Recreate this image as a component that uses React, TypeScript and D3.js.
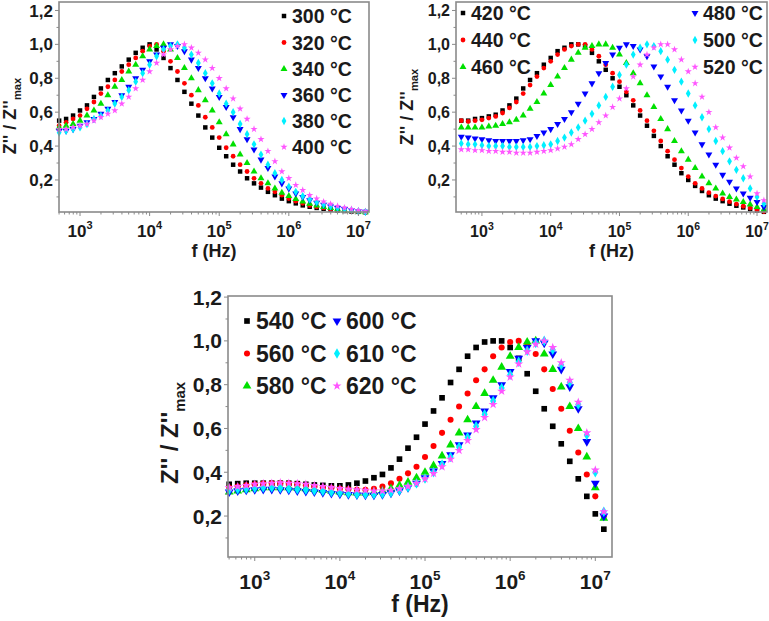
import React from "react";
import * as d3 from "d3";

// log10 of frequency (Hz) at each measured point
const LOG_F = [
  2.7, 2.8, 2.9, 3.0, 3.1, 3.2, 3.3, 3.4, 3.5, 3.6,
  3.7, 3.8, 3.9, 4.0, 4.1, 4.2, 4.3, 4.4, 4.5, 4.6,
  4.7, 4.8, 4.9, 5.0, 5.1, 5.2, 5.3, 5.4, 5.5, 5.6,
  5.7, 5.8, 5.9, 6.0, 6.1, 6.2, 6.3, 6.4, 6.5, 6.6,
  6.7, 6.8, 6.9, 7.0, 7.1,
];
const FREQ = LOG_F.map((e) => Math.pow(10, e));

const LABELS_A = ["300 °C", "320 °C", "340 °C", "360 °C", "380 °C", "400 °C"];
const LABELS_B = ["420 °C", "440 °C", "460 °C", "480 °C", "500 °C", "520 °C"];
const LABELS_C = ["540 °C", "560 °C", "580 °C", "600 °C", "610 °C", "620 °C"];

// Panel A (300-400 °C)
const A300 = [0.55,0.56,0.58,0.61,0.64,0.69,0.74,0.79,0.83,0.87,0.91,0.95,0.98,1.00,0.97,0.92,0.86,0.79,0.72,0.65,0.58,0.51,0.45,0.39,0.34,0.29,0.25,0.21,0.18,0.155,0.13,0.11,0.09,0.075,0.062,0.05,0.042,0.035,0.03,0.025,0.02,0.017,0.014,0.012,0.01];
const A320 = [0.52,0.54,0.56,0.58,0.62,0.66,0.71,0.75,0.79,0.84,0.88,0.92,0.96,0.99,1.00,0.96,0.90,0.84,0.77,0.70,0.64,0.57,0.51,0.45,0.39,0.34,0.29,0.25,0.21,0.18,0.15,0.13,0.11,0.09,0.075,0.062,0.05,0.042,0.035,0.028,0.023,0.019,0.015,0.012,0.01];
const A340 = [0.51,0.52,0.53,0.55,0.58,0.61,0.65,0.70,0.75,0.79,0.84,0.88,0.93,0.97,0.99,1.00,0.97,0.92,0.86,0.80,0.73,0.67,0.61,0.54,0.47,0.41,0.35,0.30,0.25,0.21,0.18,0.15,0.125,0.105,0.088,0.073,0.06,0.05,0.041,0.034,0.028,0.022,0.018,0.014,0.01];
const A360 = [0.49,0.49,0.50,0.52,0.54,0.56,0.59,0.62,0.66,0.70,0.75,0.80,0.85,0.90,0.94,0.98,1.00,0.99,0.96,0.91,0.86,0.80,0.74,0.69,0.63,0.57,0.50,0.44,0.38,0.32,0.27,0.22,0.18,0.15,0.12,0.10,0.08,0.065,0.053,0.043,0.035,0.028,0.022,0.016,0.012];
const A380 = [0.48,0.49,0.50,0.51,0.53,0.56,0.58,0.61,0.65,0.69,0.73,0.78,0.83,0.88,0.93,0.97,0.99,1.00,0.98,0.94,0.89,0.83,0.77,0.71,0.65,0.60,0.53,0.47,0.41,0.35,0.29,0.24,0.20,0.16,0.13,0.105,0.085,0.07,0.056,0.045,0.036,0.029,0.022,0.016,0.012];
const A400 = [0.50,0.50,0.51,0.52,0.53,0.55,0.57,0.59,0.61,0.65,0.69,0.74,0.79,0.84,0.89,0.94,0.97,0.99,1.00,0.98,0.95,0.91,0.86,0.80,0.74,0.68,0.62,0.56,0.50,0.44,0.37,0.31,0.25,0.21,0.17,0.14,0.11,0.09,0.072,0.058,0.046,0.036,0.028,0.02,0.014];

// Panel B (420-520 °C)
const B420 = [0.55,0.55,0.56,0.565,0.575,0.585,0.61,0.64,0.68,0.74,0.79,0.83,0.88,0.92,0.96,0.98,1.00,1.00,0.99,0.95,0.90,0.85,0.80,0.75,0.70,0.64,0.58,0.52,0.46,0.40,0.34,0.29,0.24,0.20,0.165,0.135,0.11,0.09,0.075,0.06,0.048,0.038,0.028,0.02,0.012];
const B440 = [0.55,0.545,0.55,0.555,0.565,0.575,0.595,0.625,0.66,0.71,0.76,0.81,0.86,0.90,0.94,0.97,0.99,1.00,1.00,0.97,0.93,0.88,0.83,0.78,0.72,0.67,0.61,0.55,0.49,0.43,0.37,0.32,0.27,0.22,0.18,0.15,0.125,0.105,0.088,0.072,0.058,0.045,0.034,0.024,0.014];
const B460 = [0.51,0.51,0.51,0.51,0.515,0.52,0.53,0.54,0.555,0.58,0.62,0.66,0.71,0.76,0.81,0.86,0.91,0.95,0.98,0.99,1.00,1.00,0.98,0.94,0.89,0.83,0.77,0.70,0.63,0.56,0.50,0.43,0.37,0.32,0.27,0.22,0.18,0.15,0.12,0.10,0.085,0.07,0.055,0.04,0.025];
const B480 = [0.455,0.45,0.445,0.44,0.435,0.43,0.43,0.43,0.43,0.435,0.44,0.46,0.48,0.50,0.53,0.56,0.60,0.65,0.71,0.77,0.83,0.89,0.94,0.98,1.00,0.99,0.97,0.93,0.87,0.81,0.75,0.67,0.61,0.55,0.48,0.41,0.35,0.29,0.23,0.19,0.15,0.12,0.095,0.07,0.04];
const B500 = [0.415,0.41,0.41,0.405,0.40,0.40,0.40,0.395,0.395,0.395,0.395,0.40,0.405,0.41,0.43,0.45,0.48,0.51,0.55,0.59,0.64,0.69,0.75,0.82,0.88,0.94,0.98,1.00,0.99,0.96,0.91,0.85,0.78,0.71,0.64,0.57,0.50,0.43,0.37,0.31,0.26,0.21,0.15,0.10,0.06];
const B520 = [0.38,0.38,0.375,0.375,0.37,0.37,0.365,0.365,0.36,0.36,0.36,0.365,0.37,0.375,0.385,0.395,0.41,0.44,0.47,0.50,0.54,0.58,0.63,0.68,0.74,0.81,0.88,0.94,0.98,1.00,1.00,0.97,0.91,0.84,0.77,0.69,0.60,0.51,0.45,0.39,0.33,0.28,0.22,0.12,0.08];

// Panel C (540-620 °C)
const C540 = [0.345,0.348,0.35,0.35,0.35,0.35,0.35,0.35,0.348,0.345,0.342,0.34,0.338,0.338,0.342,0.35,0.36,0.375,0.39,0.42,0.46,0.51,0.56,0.62,0.68,0.74,0.81,0.87,0.93,0.97,0.995,1.00,1.00,0.97,0.92,0.85,0.77,0.69,0.61,0.53,0.45,0.37,0.29,0.21,0.14];
const C560 = [0.33,0.335,0.34,0.345,0.348,0.35,0.35,0.348,0.345,0.34,0.335,0.33,0.328,0.325,0.322,0.32,0.32,0.325,0.335,0.35,0.37,0.395,0.425,0.47,0.52,0.58,0.64,0.70,0.76,0.82,0.87,0.93,0.97,0.995,1.00,0.98,0.94,0.87,0.78,0.69,0.59,0.49,0.39,0.29,0.20];
const C580 = [0.31,0.315,0.32,0.325,0.33,0.33,0.33,0.33,0.328,0.325,0.322,0.318,0.315,0.31,0.307,0.305,0.305,0.308,0.315,0.325,0.34,0.355,0.375,0.40,0.43,0.475,0.525,0.58,0.64,0.70,0.76,0.82,0.88,0.93,0.97,0.995,1.00,0.94,0.87,0.79,0.70,0.60,0.47,0.33,0.19];
const C600 = [0.31,0.315,0.318,0.32,0.322,0.322,0.32,0.318,0.315,0.312,0.31,0.307,0.303,0.30,0.298,0.296,0.295,0.295,0.298,0.305,0.315,0.33,0.35,0.375,0.405,0.44,0.48,0.525,0.57,0.625,0.68,0.74,0.80,0.86,0.92,0.97,1.00,0.99,0.94,0.87,0.79,0.69,0.54,0.35,0.20];
const C610 = [0.32,0.323,0.325,0.328,0.33,0.33,0.328,0.325,0.322,0.32,0.317,0.314,0.31,0.306,0.303,0.30,0.30,0.30,0.302,0.308,0.318,0.332,0.35,0.372,0.40,0.435,0.47,0.515,0.56,0.61,0.665,0.725,0.785,0.845,0.905,0.955,0.99,1.00,0.96,0.89,0.81,0.71,0.57,0.40,0.22];
const C620 = [0.33,0.335,0.34,0.345,0.348,0.35,0.352,0.35,0.348,0.345,0.34,0.335,0.33,0.326,0.322,0.32,0.318,0.315,0.315,0.318,0.325,0.335,0.35,0.37,0.395,0.425,0.46,0.50,0.545,0.595,0.65,0.71,0.77,0.835,0.895,0.95,0.985,1.00,0.97,0.90,0.82,0.72,0.58,0.41,0.22];

const Y_MAJOR = [0.2, 0.4, 0.6, 0.8, 1.0, 1.2];
const Y_MINOR = [0.1, 0.3, 0.5, 0.7, 0.9, 1.1];
const X_MAJOR_EXP = [3, 4, 5, 6, 7];

const COLORS = ["#000000", "#ff0000", "#00e000", "#0000ff", "#00f0ff", "#ff55ff"];
const SYMBOLS = [d3.symbolSquare, d3.symbolCircle, d3.symbolTriangle, d3.symbolTriangle, d3.symbolDiamond, d3.symbolStar];
const ROTATE = [0, 0, 0, 180, 0, 0];
const SIZE_FACTOR = [1, 0.9, 1.05, 1.05, 1, 0.8];

const FONT = "'Liberation Sans', Arial, Helvetica, sans-serif";
const AXIS_GRAY = "#8a8a8a";
const TEXT_COLOR = "#1a1a1a";

type PanelCfg = {
  x0: number; x1: number; y0: number; y1: number;
  xExp: [number, number];
  yDom: [number, number];
  labels: string[];
  data: number[][];
  markerSize: number;
  tickFont: number;
  supFont: number;
  xTickY: number;
  legendFont: number;
  legendPos: { mx: number; tx: number; ty: number }[];
  yLabel: { x: number; y: number; size: number };
  xLabel: { y: number; size: number };
};

function Marker({ i, x, y, size }: { i: number; x: number; y: number; size: number }) {
  const path = d3.symbol().type(SYMBOLS[i]).size(size * SIZE_FACTOR[i])() as string;
  return (
    <path
      d={path}
      transform={`translate(${x},${y}) rotate(${ROTATE[i]})`}
      fill={COLORS[i]}
    />
  );
}

function Panel({ cfg }: { cfg: PanelCfg }) {
  const x = d3.scaleLog().domain([Math.pow(10, cfg.xExp[0]), Math.pow(10, cfg.xExp[1])]).range([cfg.x0, cfg.x1]);
  const y = d3.scaleLinear().domain(cfg.yDom).range([cfg.y1, cfg.y0]);
  const xTicks = x.ticks().filter((t) => t >= x.domain()[0] && t <= x.domain()[1]);
  const isMajor = (t: number) => Math.abs(Math.log10(t) - Math.round(Math.log10(t))) < 1e-6;
  const fmt = (v: number) => d3.format(".1f")(v).replace(".", ",");

  return (
    <g>
      {/* series */}
      {cfg.data.map((vals, si) => (
        <g key={si}>
          {vals.map((v, k) => (
            <Marker key={k} i={si} x={x(FREQ[k])} y={y(v)} size={cfg.markerSize} />
          ))}
        </g>
      ))}
      {/* frame */}
      <rect
        x={cfg.x0}
        y={cfg.y0}
        width={cfg.x1 - cfg.x0}
        height={cfg.y1 - cfg.y0}
        fill="none"
        stroke={AXIS_GRAY}
        strokeWidth={1.6}
      />
      {/* y ticks */}
      {Y_MAJOR.map((t) => (
        <g key={"ym" + t}>
          <line x1={cfg.x0 - 4} x2={cfg.x0} y1={y(t)} y2={y(t)} stroke={AXIS_GRAY} strokeWidth={1} />
          <text
            x={cfg.x0 - 6}
            y={y(t)}
            dy="0.36em"
            textAnchor="end"
            fontFamily={FONT}
            fontWeight="bold"
            fontSize={cfg.tickFont}
            fill={TEXT_COLOR}
          >
            {fmt(t)}
          </text>
        </g>
      ))}
      {Y_MINOR.map((t) => (
        <line key={"yn" + t} x1={cfg.x0 - 2.5} x2={cfg.x0} y1={y(t)} y2={y(t)} stroke={AXIS_GRAY} strokeWidth={1} />
      ))}
      {/* x ticks */}
      {xTicks.map((t, k) => (
        <line
          key={"xt" + k}
          x1={x(t)}
          x2={x(t)}
          y1={cfg.y1}
          y2={cfg.y1 + (isMajor(t) ? 4 : 2.5)}
          stroke={AXIS_GRAY}
          strokeWidth={1}
        />
      ))}
      {X_MAJOR_EXP.map((e) => (
        <text
          key={"xl" + e}
          x={x(Math.pow(10, e))}
          y={cfg.xTickY}
          textAnchor="middle"
          fontFamily={FONT}
          fontWeight="bold"
          fontSize={cfg.tickFont}
          fill={TEXT_COLOR}
        >
          10
          <tspan dy={-cfg.tickFont * 0.45} fontSize={cfg.supFont}>
            {e}
          </tspan>
        </text>
      ))}
      {/* axis titles */}
      <text
        x={(cfg.x0 + cfg.x1) / 2}
        y={cfg.xLabel.y}
        textAnchor="middle"
        fontFamily={FONT}
        fontWeight="bold"
        fontSize={cfg.xLabel.size}
        fill={TEXT_COLOR}
      >
        f (Hz)
      </text>
      <text
        transform={`translate(${cfg.yLabel.x},${cfg.yLabel.y}) rotate(-90)`}
        textAnchor="middle"
        fontFamily={FONT}
        fontWeight="bold"
        fontSize={cfg.yLabel.size}
        fill={TEXT_COLOR}
      >
        Z'' / Z''
        <tspan dy={cfg.yLabel.size * 0.3} fontSize={cfg.yLabel.size * 0.62}>
          max
        </tspan>
      </text>
      {/* legend */}
      {cfg.labels.map((lab, i) => {
        const p = cfg.legendPos[i];
        return (
          <g key={"lg" + i}>
            <Marker i={i} x={p.mx} y={p.ty} size={cfg.markerSize} />
            <text
              x={p.tx}
              y={p.ty}
              dy="0.36em"
              fontFamily={FONT}
              fontWeight="bold"
              fontSize={cfg.legendFont}
              fill={TEXT_COLOR}
            >
              {lab}
            </text>
          </g>
        );
      })}
    </g>
  );
}

const PANEL_A: PanelCfg = {
  x0: 59, x1: 369, y0: 2, y1: 212,
  xExp: [2.698, 7.152],
  yDom: [0.011, 1.25],
  labels: LABELS_A,
  data: [A300, A320, A340, A360, A380, A400],
  markerSize: 20,
  tickFont: 17,
  supFont: 11,
  xTickY: 237,
  legendFont: 19.5,
  legendPos: [16, 42.5, 69, 95, 121, 147].map((ty) => ({ mx: 284, tx: 292, ty })),
  yLabel: { x: 16, y: 116, size: 18 },
  xLabel: { y: 257, size: 18 },
};

const PANEL_B: PanelCfg = {
  x0: 456, x1: 767, y0: 2, y1: 212,
  xExp: [2.623, 7.145],
  yDom: [0.011, 1.25],
  labels: LABELS_B,
  data: [B420, B440, B460, B480, B500, B520],
  markerSize: 20,
  tickFont: 16,
  supFont: 10.5,
  xTickY: 237,
  legendFont: 19.5,
  legendPos: [
    { mx: 463, tx: 471, ty: 13 },
    { mx: 463, tx: 471, ty: 40 },
    { mx: 463, tx: 471, ty: 67 },
    { mx: 695, tx: 703, ty: 13 },
    { mx: 695, tx: 703, ty: 40 },
    { mx: 695, tx: 703, ty: 67 },
  ],
  yLabel: { x: 413, y: 107, size: 18 },
  xLabel: { y: 257, size: 18 },
};

const PANEL_C: PanelCfg = {
  x0: 228, x1: 612, y0: 296, y1: 557,
  xExp: [2.686, 7.196],
  yDom: [0.013, 1.205],
  labels: LABELS_C,
  data: [C540, C560, C580, C600, C610, C620],
  markerSize: 32,
  tickFont: 21,
  supFont: 13.5,
  xTickY: 589,
  legendFont: 23,
  legendPos: [
    { mx: 247, tx: 256, ty: 321 },
    { mx: 247, tx: 256, ty: 353.5 },
    { mx: 247, tx: 256, ty: 386 },
    { mx: 337, tx: 346, ty: 321 },
    { mx: 337, tx: 346, ty: 353.5 },
    { mx: 337, tx: 346, ty: 386 },
  ],
  yLabel: { x: 178, y: 433, size: 24 },
  xLabel: { y: 612, size: 23 },
};

export default function App() {
  return (
    <svg
      width={769}
      height={621}
      viewBox="0 0 769 621"
      style={{ position: "absolute", left: 0, top: 0, background: "#ffffff" }}
    >
      <rect x={0} y={0} width={769} height={621} fill="#ffffff" />
      <Panel cfg={PANEL_A} />
      <Panel cfg={PANEL_B} />
      <Panel cfg={PANEL_C} />
    </svg>
  );
}
